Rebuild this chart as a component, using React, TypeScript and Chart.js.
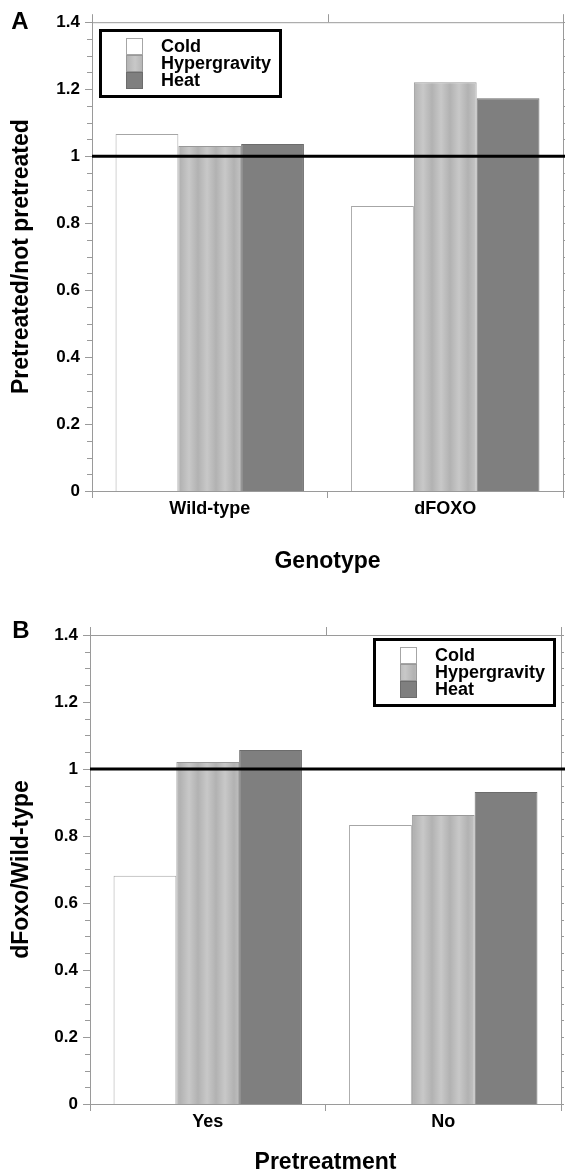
import React, { useEffect, useRef } from "react";
import { Chart, registerables } from "chart.js";

Chart.register(...registerables);

const FONT = '"Liberation Sans", Arial, Helvetica, sans-serif';

// ---- data ----
const seriesNames = ["Cold", "Hypergravity", "Heat"];

const genotypeLabels = ["Wild-type", "dFOXO"];
const coldA = [1.066, 0.851];
const hyperA = [1.03, 1.221];
const heatA = [1.036, 1.173];

const pretreatmentLabels = ["Yes", "No"];
const coldB = [0.681, 0.833];
const hyperB = [1.021, 0.863];
const heatB = [1.057, 0.931];

const yMin = 0;
const yMax = 1.4;
const yMajorStep = 0.2;
const yMinorStep = 0.05;
const referenceValue = 1;

// ---- styles ----
const COLD_FILL = "#ffffff";
const COLD_BORDER = "#a6a6a6";
const HYPER_BORDER = "#999999";
const HEAT_FILL = "#7f7f7f";
const HEAT_BORDER = "#6c6c6c";
const AXIS_GRAY = "#9a9a9a";

function makeStripePattern(ctx: CanvasRenderingContext2D): CanvasPattern | string {
  const c = document.createElement("canvas");
  c.width = 18;
  c.height = 4;
  const g = c.getContext("2d");
  if (!g) return "#bdbdbd";
  const grad = g.createLinearGradient(0, 0, 18, 0);
  grad.addColorStop(0, "#b2b2b2");
  grad.addColorStop(0.5, "#c8c8c8");
  grad.addColorStop(1, "#b2b2b2");
  g.fillStyle = grad;
  g.fillRect(0, 0, 18, 4);
  return ctx.createPattern(c, "repeat") || "#bdbdbd";
}

type PanelCfg = {
  canvasHeight: number;
  labels: string[];
  cold: number[];
  hyper: number[];
  heat: number[];
  yTitle: string;
  xTitle: string;
  letter: string;
  letterX: number;
  letterY: number;
  padTop: number;
  padRight: number;
  axisWidth: number;
  plotBottom: number;
  xTitlePadBottom: number;
  xTitleLineHeight: number;
  legendX: number;
  legendY: number;
};

const panelA: PanelCfg = {
  canvasHeight: 585,
  labels: genotypeLabels,
  cold: coldA,
  hyper: hyperA,
  heat: heatA,
  yTitle: "Pretreated/not pretreated",
  xTitle: "Genotype",
  letter: "A",
  letterX: 20,
  letterY: 22,
  padTop: 22,
  padRight: 2,
  axisWidth: 92,
  plotBottom: 491,
  xTitlePadBottom: 10,
  xTitleLineHeight: 1.2,
  legendX: 99,
  legendY: 29,
};

const panelB: PanelCfg = {
  canvasHeight: 587,
  labels: pretreatmentLabels,
  cold: coldB,
  hyper: hyperB,
  heat: heatB,
  yTitle: "dFoxo/Wild-type",
  xTitle: "Pretreatment",
  letter: "B",
  letterX: 21,
  letterY: 46,
  padTop: 50,
  padRight: 4,
  axisWidth: 90,
  plotBottom: 519,
  xTitlePadBottom: 0,
  xTitleLineHeight: 0.8,
  legendX: 373,
  legendY: 53,
};

function Panel({ cfg }: { cfg: PanelCfg }) {
  const ref = useRef<HTMLCanvasElement | null>(null);

  useEffect(() => {
    const canvas = ref.current;
    if (!canvas) return;
    const ctx0 = canvas.getContext("2d");
    if (!ctx0) return;
    const stripe = makeStripePattern(ctx0);
    const fills = [COLD_FILL, stripe, HEAT_FILL];
    const borders = [COLD_BORDER, HYPER_BORDER, HEAT_BORDER];

    const framePlugin = {
      id: "frame",
      afterDatasetsDraw(chart: any) {
        const { ctx, chartArea: a, scales } = chart;
        const x = scales.x;
        const y = scales.y;
        ctx.save();
        ctx.strokeStyle = AXIS_GRAY;
        ctx.lineWidth = 1;
        ctx.beginPath();
        // top border
        ctx.moveTo(a.left, a.top + 0.5);
        ctx.lineTo(a.right + 1, a.top + 0.5);
        // right border
        ctx.moveTo(a.right + 0.5, a.top - 8);
        ctx.lineTo(a.right + 0.5, a.bottom + 7);
        // left axis extension above
        ctx.moveTo(a.left + 0.5, a.top - 8);
        ctx.lineTo(a.left + 0.5, a.top);
        // top ticks at category boundaries
        const n = cfg.labels.length;
        for (let i = 0; i < n - 1; i++) {
          const px = Math.round((x.getPixelForValue(i) + x.getPixelForValue(i + 1)) / 2) + 0.5;
          ctx.moveTo(px, a.top);
          ctx.lineTo(px, a.top - 8);
        }
        // y ticks (major + minor), left outward and right outward
        const steps = Math.round((yMax - yMin) / yMinorStep);
        const per = Math.round(yMajorStep / yMinorStep);
        for (let k = 0; k <= steps; k++) {
          const v = yMin + k * yMinorStep;
          const py = Math.round(y.getPixelForValue(v)) + 0.5;
          const major = k % per === 0;
          const len = major ? 7 : 5;
          ctx.moveTo(a.left - len, py);
          ctx.lineTo(a.left, py);
          ctx.moveTo(a.right, py);
          ctx.lineTo(a.right + 3, py);
        }
        ctx.stroke();

        // reference line
        const ry = y.getPixelForValue(referenceValue);
        ctx.strokeStyle = "#000";
        ctx.lineWidth = 3;
        ctx.beginPath();
        ctx.moveTo(a.left, ry);
        ctx.lineTo(chart.width, ry);
        ctx.stroke();

        // legend
        const lx = cfg.legendX;
        const ly = cfg.legendY;
        const lw = 183;
        const lh = 69;
        ctx.fillStyle = "#fff";
        ctx.fillRect(lx, ly, lw, lh);
        ctx.strokeStyle = "#000";
        ctx.lineWidth = 3;
        ctx.strokeRect(lx + 1.5, ly + 1.5, lw - 3, lh - 3);
        const sx = lx + 27;
        const sw = 17;
        const rowH = 17;
        const sy0 = ly + 9;
        ctx.font = `bold 18px ${FONT}`;
        ctx.textBaseline = "middle";
        ctx.textAlign = "left";
        for (let i = 0; i < seriesNames.length; i++) {
          const sy = sy0 + i * rowH;
          ctx.fillStyle = fills[i] as any;
          ctx.fillRect(sx, sy, sw, rowH);
          ctx.strokeStyle = borders[i];
          ctx.lineWidth = 1;
          ctx.strokeRect(sx + 0.5, sy + 0.5, sw - 1, rowH - 1);
          ctx.fillStyle = "#000";
          ctx.fillText(seriesNames[i], lx + 62, sy + rowH / 2 + 1);
        }

        // panel letter
        ctx.font = `bold 24px ${FONT}`;
        ctx.textAlign = "center";
        ctx.textBaseline = "middle";
        ctx.fillStyle = "#000";
        ctx.fillText(cfg.letter, cfg.letterX, cfg.letterY);
        ctx.restore();
      },
    };

    const chart = new Chart(canvas, {
      type: "bar",
      data: {
        labels: cfg.labels,
        datasets: [
          { label: seriesNames[0], data: cfg.cold, backgroundColor: fills[0] as any, borderColor: borders[0], borderWidth: 1 },
          { label: seriesNames[1], data: cfg.hyper, backgroundColor: fills[1] as any, borderColor: borders[1], borderWidth: 1 },
          { label: seriesNames[2], data: cfg.heat, backgroundColor: fills[2] as any, borderColor: borders[2], borderWidth: 1 },
        ],
      },
      options: {
        responsive: false,
        animation: false,
        events: [],
        datasets: { bar: { categoryPercentage: 0.8, barPercentage: 1.0 } },
        layout: { padding: { top: cfg.padTop, right: cfg.padRight, left: 0, bottom: 0 } },
        plugins: {
          legend: { display: false },
          tooltip: { enabled: false },
          title: { display: false },
        },
        scales: {
          x: {
            type: "category",
            offset: true,
            grid: {
              display: true,
              drawOnChartArea: false,
              drawTicks: true,
              tickLength: 7,
              color: AXIS_GRAY,
              offset: true,
            },
            border: { display: true, color: AXIS_GRAY, width: 1 },
            ticks: {
              color: "#000",
              font: { family: FONT, size: 18, weight: "bold" },
              padding: 0,
              maxRotation: 0,
            },
            title: {
              display: true,
              text: cfg.xTitle,
              color: "#000",
              font: { family: FONT, size: 23, weight: "bold", lineHeight: cfg.xTitleLineHeight },
              padding: { top: 0, bottom: cfg.xTitlePadBottom },
            },
            afterFit: (s: any) => {
              s.height = cfg.canvasHeight - cfg.plotBottom;
            },
          },
          y: {
            min: yMin,
            max: yMax,
            grid: { display: false, drawTicks: false },
            border: { display: true, color: AXIS_GRAY, width: 1 },
            ticks: {
              stepSize: yMajorStep,
              color: "#000",
              font: { family: FONT, size: 17, weight: "bold" },
              padding: 12,
              callback: (v: any) => String(Math.round(Number(v) * 10) / 10),
            },
            title: {
              display: true,
              text: cfg.yTitle,
              color: "#000",
              font: { family: FONT, size: 23, weight: "bold" },
              padding: { top: 8, bottom: 0 },
            },
            afterFit: (s: any) => {
              s.width = cfg.axisWidth;
            },
          },
        },
      } as any,
      plugins: [framePlugin],
    });

    return () => {
      chart.destroy();
    };
  }, [cfg]);

  return (
    <canvas
      ref={ref}
      width={565}
      height={cfg.canvasHeight}
      style={{ display: "block", width: 565, height: cfg.canvasHeight }}
    />
  );
}

export default function App() {
  useEffect(() => {
    document.body.style.margin = "0";
    document.body.style.background = "#fff";
  }, []);
  return (
    <div style={{ width: 565, height: 1172, background: "#fff" }}>
      <Panel cfg={panelA} />
      <Panel cfg={panelB} />
    </div>
  );
}
